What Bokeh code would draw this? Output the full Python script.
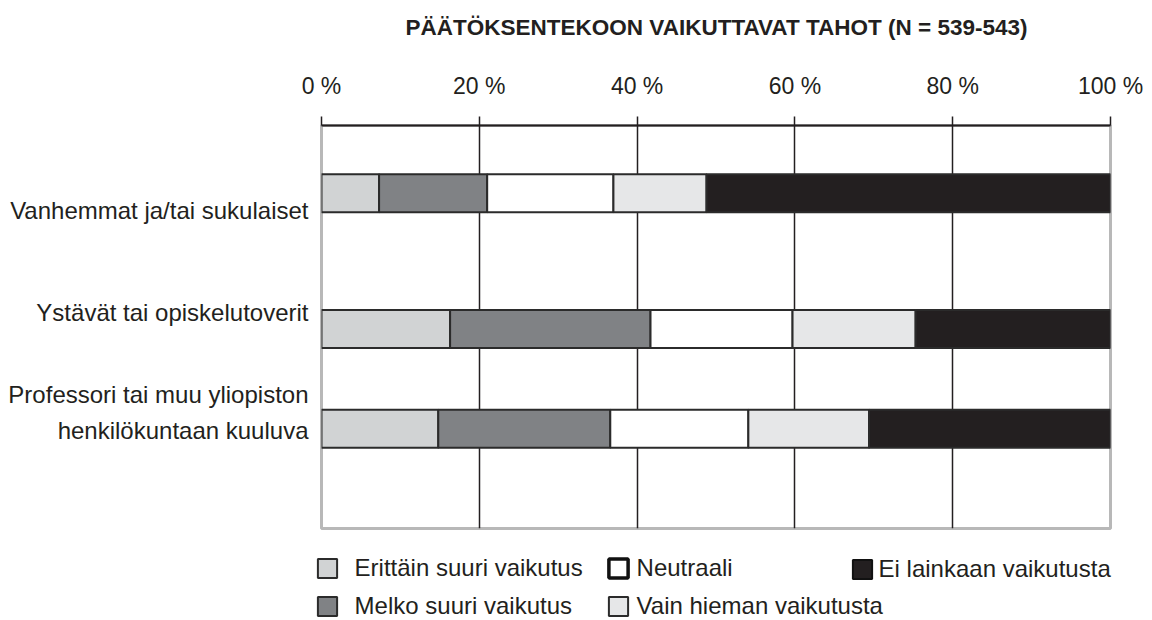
from bokeh.plotting import figure
from bokeh.models import Range1d, FixedTicker, Legend, LegendItem, ColumnDataSource, Label
from bokeh.embed import file_html
from bokeh.resources import INLINE

# ---------------- data ----------------
title_text = "PÄÄTÖKSENTEKOON VAIKUTTAVAT TAHOT (N = 539-543)"
categories = [
    "Vanhemmat ja/tai sukulaiset",
    "Ystävät tai opiskelutoverit",
    "Professori tai muu yliopiston\nhenkilökuntaan kuuluva",
]
series_names = [
    "Erittäin suuri vaikutus",
    "Melko suuri vaikutus",
    "Neutraali",
    "Vain hieman vaikutusta",
    "Ei lainkaan vaikutusta",
]
erittain_suuri = [7.3, 16.3, 14.8]
melko_suuri = [13.7, 25.4, 21.8]
neutraali = [16.0, 18.0, 17.5]
vain_hieman = [11.8, 15.6, 15.3]
ei_lainkaan = [51.2, 24.7, 30.6]
x_ticks = [0, 20, 40, 60, 80, 100]
x_tick_labels = ["0 %", "20 %", "40 %", "60 %", "80 %", "100 %"]

# ---------------- layout (not data) ----------------
ROW_Y = [1.0, 3.0, 4.47]          # bar row centres
LABEL_Y = [1.26, 2.75, 4.23]      # category label centres
Y_END = 5.94
BAR_H = 0.56
colors = ["#d1d3d4", "#808285", "#ffffff", "#e6e7e8", "#231f20"]
TXT = "#231f20"
FONT = "Liberation Sans"
W = 1152
TITLE_H = 50


def strip(height):
    f = figure(
        width=W, height=height,
        x_range=Range1d(0, W), y_range=Range1d(0, height),
        x_axis_location=None, y_axis_location=None,
        output_backend="svg", toolbar_location=None,
        min_border_left=0, min_border_right=0, min_border_top=0, min_border_bottom=0,
    )
    f.outline_line_color = None
    f.xgrid.grid_line_color = None
    f.ygrid.grid_line_color = None
    f.border_fill_color = "white"
    return f


# ---------------- title strip ----------------
tp = strip(TITLE_H)
tp.add_layout(Label(
    x=716, y=TITLE_H - 27, text=title_text,
    text_align="center", text_baseline="middle",
    text_font=FONT, text_font_size="22.5px", text_font_style="bold", text_color=TXT,
))

# ---------------- main chart ----------------
keys = ["k0", "k1", "k2", "k3", "k4"]
source = ColumnDataSource(dict(
    y=ROW_Y,
    k0=erittain_suuri, k1=melko_suuri, k2=neutraali, k3=vain_hieman, k4=ei_lainkaan,
))

p = figure(
    width=W, height=532 - TITLE_H,
    x_range=Range1d(0, 100), y_range=Range1d(Y_END, 0),
    x_axis_location="above",
    output_backend="svg", toolbar_location=None,
    min_border_left=321, min_border_right=42, min_border_top=125 - TITLE_H, min_border_bottom=4,
)

renderers = p.hbar_stack(keys, y="y", height=BAR_H, color=colors, source=source,
                         line_color="#2b2b2b", line_width=2)

# grid
p.xgrid.ticker = FixedTicker(ticks=[20, 40, 60, 80])
p.xgrid.grid_line_color = "#231f20"
p.xgrid.grid_line_width = 1.5
p.ygrid.grid_line_color = None

# frame
p.outline_line_color = "#b8b8b8"
p.outline_line_width = 3
p.background_fill_color = "white"
p.border_fill_color = "white"

# x axis (top)
xa = p.xaxis[0]
xa.ticker = FixedTicker(ticks=x_ticks)
xa.major_label_overrides = {t: l for t, l in zip(x_ticks, x_tick_labels)}
xa.major_tick_out = 9
xa.major_tick_in = 0
xa.minor_tick_line_color = None
xa.axis_line_width = 2
xa.axis_line_color = TXT
xa.major_tick_line_color = TXT
xa.major_tick_line_width = 1.5
xa.major_label_standoff = 18
xa.major_label_text_font = FONT
xa.major_label_text_font_size = "23px"
xa.major_label_text_color = TXT

# y axis (category labels)
ya = p.yaxis[0]
ya.ticker = FixedTicker(ticks=LABEL_Y)
ya.major_label_overrides = {t: l for t, l in zip(LABEL_Y, categories)}
ya.axis_line_color = None
ya.major_tick_line_color = None
ya.minor_tick_line_color = None
ya.major_label_standoff = 7
ya.major_label_text_font = FONT
ya.major_label_text_font_size = "24px"
ya.major_label_text_color = TXT
ya.major_label_text_line_height = 1.33

# ---------------- legend strip ----------------
lp = strip(88)

key_line_colors = ["#2b2b2b", "#2b2b2b", "#111111", "#2b2b2b", "#111111"]
key_line_widths = [2, 2, 3.5, 2, 2]
key_r = [
    lp.hbar(y=[-500], right=[0], height=1, fill_color=colors[i],
            line_color=key_line_colors[i], line_width=key_line_widths[i])
    for i in range(5)
]


def make_legend(idx, loc, standoff):
    lg = Legend(
        items=[LegendItem(label=series_names[i], renderers=[key_r[i]]) for i in idx],
        location=loc, orientation="vertical",
        glyph_width=24, glyph_height=24, label_standoff=standoff,
        spacing=10, padding=0, margin=0,
        border_line_color=None, background_fill_alpha=0,
        label_text_font=FONT, label_text_font_size="24px", label_text_color=TXT,
    )
    lp.add_layout(lg)


make_legend([0, 1], (314.6, 0), 16)
make_legend([2, 3], (605.6, 0), 7)
make_legend([4], (849.6, 37), 5)

open("out.html", "w").write(file_html([tp, p, lp], INLINE))
